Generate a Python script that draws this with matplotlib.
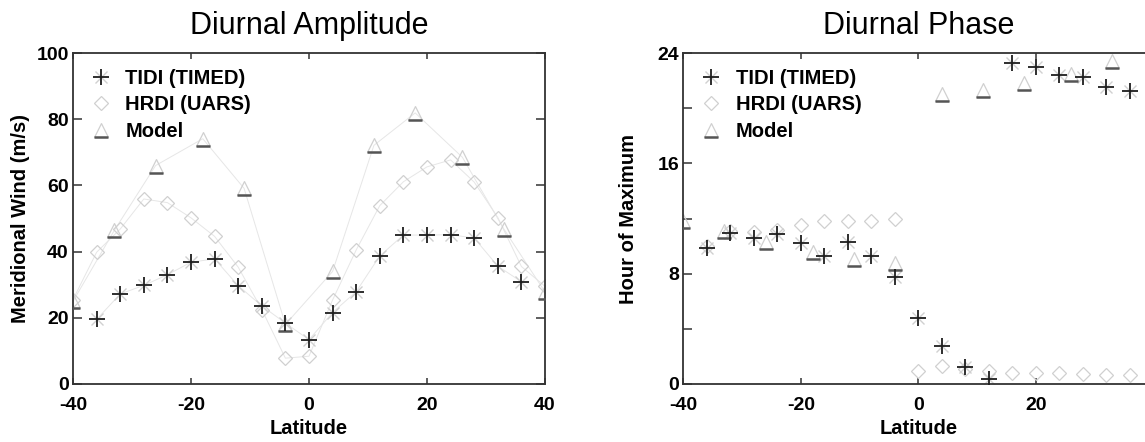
import numpy as np
import matplotlib
matplotlib.use("Agg")
import matplotlib.pyplot as plt
from matplotlib.path import Path

plt.rcParams['font.family'] = ['Liberation Sans', 'DejaVu Sans']
plt.rcParams['axes.unicode_minus'] = False

# ---------------- data ----------------
# TIDI (TIMED), every 4 deg
lat_tidi = [-36, -32, -28, -24, -20, -16, -12, -8, -4, 0, 4, 8, 12, 16, 20, 24, 28, 32, 36]
amp_tidi = [19.5, 27.2, 29.8, 33.0, 36.8, 37.8, 29.7, 23.6, 18.4, 13.4, 21.6, 27.9,
            38.7, 45.0, 45.0, 45.1, 44.1, 35.6, 30.9]
phase_tidi = [9.85, 10.98, 10.62, 10.86, 10.25, 9.29, 10.33, 9.29, 7.75, 4.78, 2.72, 1.23,
              0.38, 23.24, 22.95, 22.4, 22.27, 21.55, 21.26]

# HRDI (UARS)
lat_hrdi_amp = [-40, -36, -32, -28, -24, -20, -16, -12, -8, -4, 0, 4, 8, 12, 16, 20, 24, 28, 32, 36, 40]
amp_hrdi = [25.5, 39.8, 46.8, 55.9, 54.8, 50.2, 44.6, 35.3, 22.5, 7.8, 8.4, 25.4, 40.5,
            53.9, 61.1, 65.6, 67.7, 61.0, 50.3, 35.5, 29.5]
lat_hrdi_ph = [-36, -32, -28, -24, -20, -16, -12, -8, -4, 0, 4, 8, 12, 16, 20, 24, 28, 32, 36]
phase_hrdi = [10.0, 11.1, 11.0, 11.2, 11.5, 11.8, 11.8, 11.8, 12.0, 0.91, 1.27, 1.1,
              0.91, 0.8, 0.8, 0.8, 0.72, 0.65, 0.65]

# Model
lat_model = [-40, -33, -26, -18, -11, -4, 4, 11, 18, 26, 33, 40]
amp_model = [25.0, 46.4, 66.0, 74.1, 59.1, 18.0, 34.0, 72.1, 81.9, 68.5, 46.9, 27.8]
lat_model_ph = [-40, -33, -26, -18, -11, -4, 4, 11, 18, 26, 33]
phase_model = [11.8, 11.06, 10.3, 9.56, 9.06, 8.77, 21.0, 21.3, 21.8, 22.5, 23.4]

# ---------------- styles ----------------
DARK = '#1e1e1e'
LIGHT = '#d0d0d0'
LINE = '#e6e6e6'
tri_path = Path([(0, 1), (-1, -1), (1, -1), (0, 1)])
base_path = Path([(-1, 1), (-1, -1), (1, -1)], [Path.MOVETO, Path.MOVETO, Path.LINETO])


def draw_points(ax, x, y, kind, connect):
    if connect:
        ax.plot(x, y, '-', color=LINE, lw=0.7, zorder=1)
    if kind == 'tidi':
        h1, = ax.plot(x, y, 'x', ms=9, mew=1.0, color=LIGHT, ls='none', zorder=2)
        h2, = ax.plot(x, y, '+', ms=11, mew=1.3, color=DARK, ls='none', zorder=4)
        return (h1, h2)
    if kind == 'hrdi':
        h, = ax.plot(x, y, 'D', ms=7, mew=0.9, mfc='none', mec=LIGHT, ls='none', zorder=2)
        return (h,)
    h1, = ax.plot(x, y, marker=tri_path, ms=10, mew=0.9, mfc='none', mec=LIGHT,
                  ls='none', zorder=2)
    h2, = ax.plot(x, y, marker=base_path, ms=10, mew=1.8, color='#555555',
                  ls='none', zorder=3)
    return (h1, h2)


def style_axes(ax):
    for s in ax.spines.values():
        s.set_color('#333333')
        s.set_linewidth(1.3)
    ax.tick_params(axis='both', which='both', direction='in', top=True, right=True,
                   labelsize=14, color='#333333', width=1.1)
    ax.tick_params(axis='x', length=4.5, pad=9)
    ax.tick_params(axis='y', length=6.5, pad=3)
    for lab in ax.get_xticklabels() + ax.get_yticklabels():
        lab.set_fontweight('bold')


def add_legend(ax, handles):
    ax.legend(handles, ['TIDI (TIMED)', 'HRDI (UARS)', 'Model'], loc='upper left',
              frameon=False, numpoints=1, handlelength=1.2, handletextpad=0.6,
              labelspacing=0.36, bbox_to_anchor=(0.0, 1.0), borderaxespad=0.4,
              prop={'weight': 'bold', 'size': 14.5})


fig = plt.figure(figsize=(11.45, 4.42), dpi=100)

# ---------------- left: amplitude ----------------
ax1 = fig.add_axes([73 / 1145, 58 / 442, 472 / 1145, 331 / 442])
hl = []
hl.append(draw_points(ax1, lat_tidi, amp_tidi, 'tidi', True))
hl.append(draw_points(ax1, lat_hrdi_amp, amp_hrdi, 'hrdi', True))
hl.append(draw_points(ax1, lat_model, amp_model, 'model', True))
ax1.set_xlim(-40, 40)
ax1.set_ylim(0, 100)
ax1.set_xticks([-40, -20, 0, 20, 40])
ax1.set_yticks([0, 20, 40, 60, 80, 100])
style_axes(ax1)
ax1.set_title('Diurnal Amplitude', fontsize=22, pad=14)
ax1.set_xlabel('Latitude', fontsize=14.5, fontweight='bold', labelpad=4)
ax1.set_ylabel('Meridional Wind (m/s)', fontsize=14.5, fontweight='bold', labelpad=5)
add_legend(ax1, hl)

# ---------------- right: phase ----------------
ax2 = fig.add_axes([683.3 / 1145, 58 / 442, 470.2 / 1145, 331 / 442])
hr = []
hr.append(draw_points(ax2, lat_tidi, phase_tidi, 'tidi', False))
hr.append(draw_points(ax2, lat_hrdi_ph, phase_hrdi, 'hrdi', False))
hr.append(draw_points(ax2, lat_model_ph, phase_model, 'model', False))
ax2.set_xlim(-40, 40)
ax2.set_ylim(0, 24)
ax2.set_xticks([-40, -20, 0, 20, 40])
ax2.set_xticklabels(['-40', '-20', '0', '20', ''])
ax2.set_yticks([0, 4, 8, 12, 16, 20, 24])
ax2.set_yticklabels(['0', '', '8', '', '16', '', '24'])
style_axes(ax2)
ax2.set_title('Diurnal Phase', fontsize=22, pad=14)
ax2.set_xlabel('Latitude', fontsize=14.5, fontweight='bold', labelpad=4)
ax2.set_ylabel('Hour of Maximum', fontsize=14.5, fontweight='bold', labelpad=14)
add_legend(ax2, hr)

fig.savefig('out.png', dpi=100)
